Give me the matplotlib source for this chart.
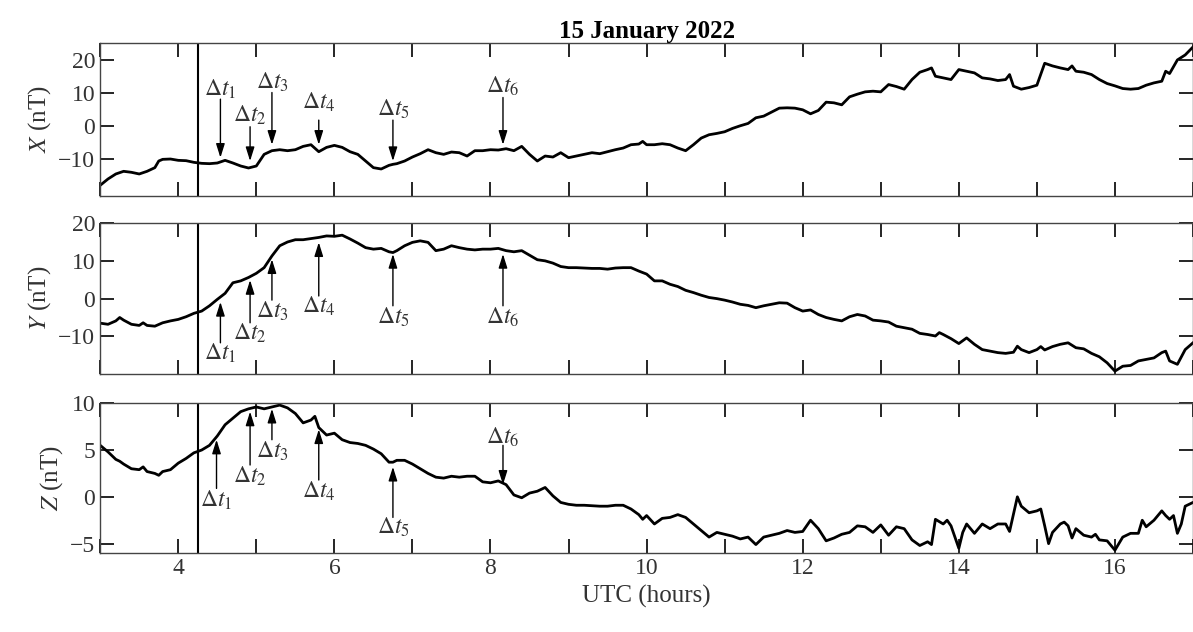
import numpy as np
import matplotlib
matplotlib.use("Agg")
import matplotlib.pyplot as plt
from matplotlib.ticker import MultipleLocator

plt.rcParams['font.family'] = ['Liberation Serif', 'DejaVu Serif']
plt.rcParams['mathtext.fontset'] = 'stix'

# X component (nT)
hx = [3.0, 3.1, 3.2, 3.3, 3.4, 3.5, 3.6, 3.7, 3.75, 3.8, 3.9, 4.0, 4.1, 4.2, 4.3, 4.4, 4.5, 4.6, 4.7,
      4.8, 4.9, 5.0, 5.1, 5.2, 5.3, 5.4, 5.5, 5.6, 5.7, 5.8, 5.9, 6.0, 6.1, 6.2, 6.3, 6.4, 6.5, 6.6,
      6.7, 6.75, 6.8, 6.9, 7.0, 7.1, 7.2, 7.3, 7.4, 7.5, 7.6, 7.7, 7.8, 7.9, 8.0, 8.1, 8.2, 8.3, 8.4,
      8.5, 8.6, 8.7, 8.8, 8.9, 9.0, 9.1, 9.2, 9.3, 9.4, 9.5, 9.6, 9.7, 9.8, 9.9, 9.95, 10.0, 10.1,
      10.2, 10.3, 10.4, 10.5, 10.6, 10.7, 10.8, 10.9, 11.0, 11.1, 11.2, 11.3, 11.4, 11.5, 11.6, 11.7,
      11.8, 11.9, 12.0, 12.1, 12.2, 12.3, 12.4, 12.5, 12.6, 12.7, 12.8, 12.9, 13.0, 13.1, 13.2, 13.3,
      13.4, 13.5, 13.6, 13.65, 13.7, 13.8, 13.9, 14.0, 14.1, 14.2, 14.3, 14.4, 14.5, 14.6, 14.65, 14.7,
      14.8, 14.9, 15.0, 15.1, 15.2, 15.3, 15.4, 15.45, 15.5, 15.6, 15.7, 15.8, 15.9, 16.0, 16.1, 16.2,
      16.3, 16.4, 16.5, 16.6, 16.65, 16.7, 16.8, 16.9, 17.0]
bx = [-17.8, -15.9, -14.4, -13.6, -13.9, -14.4, -13.6, -12.5, -10.5, -10.0, -9.9, -10.3, -10.4, -10.9,
      -11.2, -11.3, -11.1, -10.3, -11.1, -12.0, -12.6, -12.0, -8.5, -7.4, -7.1, -7.4, -7.1, -6.1, -5.6,
      -7.7, -6.4, -5.8, -6.4, -7.7, -8.5, -10.5, -12.5, -12.9, -11.8, -11.5, -11.3, -10.5, -9.3, -8.3,
      -7.1, -8.0, -8.5, -7.8, -8.0, -9.0, -7.4, -7.4, -7.1, -7.2, -6.8, -7.4, -6.1, -8.5, -10.5, -9.0,
      -9.3, -8.0, -9.5, -9.0, -8.5, -8.0, -8.3, -7.7, -7.1, -6.6, -5.6, -5.4, -4.6, -5.6, -5.6, -5.3,
      -5.6, -6.6, -7.4, -5.6, -3.6, -2.6, -2.2, -1.7, -0.7, 0.1, 0.8, 2.5, 3.0, 4.2, 5.4, 5.5, 5.4, 4.9,
      3.7, 4.7, 7.2, 7.0, 6.4, 8.8, 9.6, 10.3, 10.5, 10.3, 12.5, 11.9, 11.1, 14.0, 16.2, 17.0, 17.5,
      15.0, 14.5, 14.0, 17.0, 16.5, 16.0, 14.5, 14.2, 13.7, 14.0, 15.5, 12.0, 11.1, 11.6, 12.3, 18.9,
      18.1, 17.5, 17.0, 18.1, 16.5, 16.2, 15.5, 14.0, 12.8, 12.1, 11.3, 11.1, 11.3, 12.3, 13.0, 13.5,
      16.5, 15.8, 19.9, 21.4, 23.8]

# Y component (nT)
hy = [3.0, 3.1, 3.2, 3.25, 3.3, 3.4, 3.5, 3.55, 3.6, 3.7, 3.8, 3.9, 4.0, 4.1, 4.2, 4.3, 4.4, 4.5, 4.6,
      4.7, 4.8, 4.9, 5.0, 5.1, 5.2, 5.3, 5.4, 5.5, 5.6, 5.7, 5.8, 5.9, 6.0, 6.1, 6.2, 6.3, 6.4, 6.5, 6.6,
      6.7, 6.75, 6.8, 6.9, 7.0, 7.1, 7.2, 7.3, 7.4, 7.5, 7.6, 7.7, 7.8, 7.9, 8.0, 8.1, 8.2, 8.3, 8.4,
      8.5, 8.6, 8.7, 8.8, 8.9, 9.0, 9.1, 9.2, 9.3, 9.4, 9.5, 9.6, 9.7, 9.8, 9.9, 10.0, 10.1, 10.2, 10.3,
      10.4, 10.5, 10.6, 10.7, 10.8, 10.9, 11.0, 11.1, 11.2, 11.3, 11.4, 11.5, 11.6, 11.7, 11.8, 11.9,
      12.0, 12.1, 12.2, 12.3, 12.4, 12.5, 12.6, 12.7, 12.8, 12.9, 13.0, 13.1, 13.2, 13.3, 13.4, 13.5,
      13.6, 13.7, 13.75, 13.8, 13.9, 14.0, 14.1, 14.2, 14.3, 14.4, 14.5, 14.6, 14.7, 14.75, 14.8, 14.9,
      15.0, 15.05, 15.1, 15.2, 15.3, 15.4, 15.5, 15.6, 15.7, 15.8, 15.9, 16.0, 16.1, 16.2, 16.3, 16.4,
      16.5, 16.6, 16.65, 16.7, 16.8, 16.9, 17.0]
by = [-6.5, -6.8, -5.9, -5.0, -5.7, -6.8, -7.1, -6.4, -7.1, -7.3, -6.4, -5.9, -5.5, -4.8, -3.9, -3.3,
      -1.9, -0.2, 1.4, 4.2, 4.7, 5.6, 6.7, 8.2, 11.3, 14.0, 15.0, 15.6, 15.6, 15.9, 16.2, 16.6, 16.5,
      16.8, 15.8, 14.7, 13.5, 13.1, 13.3, 12.4, 12.2, 12.7, 14.0, 14.9, 15.3, 14.9, 12.7, 13.1, 14.0,
      13.5, 13.1, 12.9, 13.1, 13.1, 13.3, 12.7, 12.4, 12.7, 11.5, 10.3, 10.0, 9.4, 8.5, 8.2, 8.2, 8.1,
      8.0, 8.0, 7.8, 8.1, 8.2, 8.2, 7.3, 6.5, 4.7, 4.7, 3.8, 3.2, 2.2, 1.6, 0.9, 0.3, 0.0, -0.4, -0.9,
      -1.5, -1.8, -2.4, -1.9, -1.5, -1.1, -1.2, -2.4, -3.3, -3.0, -4.2, -5.0, -5.5, -5.9, -4.8, -4.2,
      -4.6, -5.7, -5.9, -6.2, -7.3, -7.7, -8.1, -9.2, -9.5, -9.9, -9.0, -9.5, -10.6, -11.9, -10.4, -12.1,
      -13.5, -13.9, -14.3, -14.5, -14.2, -12.6, -13.5, -14.3, -13.5, -12.7, -13.6, -12.7, -12.1, -11.7,
      -13.0, -13.3, -14.5, -15.4, -17.0, -19.2, -17.9, -17.7, -16.5, -16.1, -15.7, -14.3, -13.9, -16.5,
      -17.4, -13.5, -11.7]

# Z component (nT)
hz = [3.0, 3.1, 3.2, 3.25, 3.3, 3.4, 3.5, 3.55, 3.6, 3.7, 3.75, 3.8, 3.9, 4.0, 4.1, 4.2, 4.3, 4.4, 4.5,
      4.6, 4.7, 4.8, 4.9, 5.0, 5.1, 5.2, 5.3, 5.4, 5.5, 5.6, 5.7, 5.75, 5.8, 5.9, 6.0, 6.1, 6.2, 6.3,
      6.4, 6.5, 6.6, 6.7, 6.75, 6.8, 6.9, 7.0, 7.1, 7.2, 7.3, 7.4, 7.5, 7.6, 7.7, 7.8, 7.9, 8.0, 8.1,
      8.2, 8.3, 8.4, 8.5, 8.6, 8.7, 8.8, 8.9, 9.0, 9.1, 9.2, 9.4, 9.5, 9.6, 9.7, 9.8, 9.9, 9.95, 10.0,
      10.1, 10.2, 10.3, 10.4, 10.5, 10.6, 10.7, 10.8, 10.9, 11.0, 11.1, 11.2, 11.3, 11.4, 11.5, 11.6,
      11.7, 11.8, 11.9, 12.0, 12.1, 12.2, 12.3, 12.4, 12.5, 12.6, 12.7, 12.8, 12.9, 13.0, 13.1, 13.2,
      13.3, 13.4, 13.5, 13.6, 13.65, 13.7, 13.8, 13.85, 13.9, 14.0, 14.05, 14.1, 14.2, 14.3, 14.4, 14.5,
      14.6, 14.65, 14.75, 14.8, 14.9, 15.0, 15.05, 15.1, 15.15, 15.2, 15.3, 15.35, 15.4, 15.45, 15.5,
      15.6, 15.7, 15.75, 15.8, 15.9, 16.0, 16.1, 16.2, 16.3, 16.35, 16.4, 16.5, 16.6, 16.65, 16.7,
      16.75, 16.8, 16.85, 16.9, 17.0]
bz = [5.5, 4.8, 4.0, 3.8, 3.5, 3.0, 2.9, 3.2, 2.7, 2.5, 2.3, 2.7, 2.9, 3.6, 4.1, 4.7, 5.0, 5.5, 6.5,
      7.7, 8.4, 9.1, 9.4, 9.6, 9.4, 9.6, 9.8, 9.5, 8.9, 7.9, 8.2, 8.6, 7.4, 6.6, 6.8, 6.1, 5.8, 5.7,
      5.5, 5.1, 4.6, 3.7, 3.7, 3.9, 3.9, 3.5, 3.0, 2.5, 2.1, 2.0, 2.2, 2.1, 2.2, 2.2, 1.6, 1.5, 1.7,
      1.3, 0.2, -0.1, 0.4, 0.6, 1.0, 0.1, -0.6, -0.8, -0.9, -0.9, -1.0, -1.0, -0.9, -0.9, -1.3, -1.9,
      -2.4, -2.0, -2.9, -2.3, -2.2, -1.9, -2.2, -2.9, -3.6, -4.3, -3.8, -4.0, -4.2, -4.5, -4.3, -5.1,
      -4.3, -4.1, -3.9, -3.6, -3.8, -3.7, -2.5, -3.4, -4.7, -4.4, -4.0, -3.8, -3.1, -3.2, -3.8, -3.0,
      -4.1, -3.2, -3.4, -4.6, -5.2, -4.8, -5.1, -2.4, -2.9, -2.5, -3.1, -5.5, -3.8, -2.9, -3.9, -2.9,
      -3.4, -2.9, -2.9, -3.7, 0.0, -1.0, -1.7, -1.5, -1.3, -3.1, -5.0, -3.8, -2.9, -2.7, -3.1, -4.4,
      -3.4, -4.1, -4.3, -4.0, -4.6, -4.7, -5.7, -4.3, -3.9, -3.9, -2.5, -3.2, -2.5, -1.5, -2.0, -2.4,
      -2.0, -3.9, -2.9, -1.0, -0.6]

onset = 4.25
labels = [r'$\Delta t_1$', r'$\Delta t_2$', r'$\Delta t_3$', r'$\Delta t_4$', r'$\Delta t_5$', r'$\Delta t_6$']
arrow_x = [4.54, 4.92, 5.2, 5.8, 6.75, 8.16]

# (tail, tip, text centre) for each panel
x_arrows = [(8.1, -9.5, 11.0), (-0.2, -10.5, 3.3), (10.1, -5.6, 13.2),
            (1.8, -5.6, 7.2), (1.8, -10.5, 5.0), (8.6, -5.6, 11.9)]
y_arrows = [(-11.7, -0.9, -14.6), (-6.4, 4.9, -9.3), (-0.4, 10.4, -3.3),
            (0.7, 14.9, -2.1), (-1.9, 11.8, -5.0), (-1.9, 11.8, -5.0)]
z_arrows = [(0.9, 6.1, -0.4), (3.4, 9.1, 2.2), (6.1, 9.4, 4.9),
            (1.8, 7.2, 0.6), (-2.2, 3.2, -3.3), (5.5, 1.3, 6.4)]
z_arrow_x = [4.49, 4.92, 5.2, 5.8, 6.75, 8.16]

fig = plt.figure(figsize=(11.93, 6.32), dpi=100)
left, width = 0.084, 0.916
ax1 = fig.add_axes([left, 0.690, width, 0.242])
ax2 = fig.add_axes([left, 0.408, width, 0.239])
ax3 = fig.add_axes([left, 0.125, width, 0.237])

panels = [
    (ax1, hx, bx, (-21, 25), [-10, 0, 10, 20], r'$X$ (nT)', x_arrows, arrow_x),
    (ax2, hy, by, (-20, 20), [-10, 0, 10, 20], r'$Y$ (nT)', y_arrows, arrow_x),
    (ax3, hz, bz, (-6, 10), [-5, 0, 5, 10], r'$Z$ (nT)', z_arrows, z_arrow_x),
]

for ax, h, b, ylim, yt, ylab, arrows, ax_x in panels:
    ax.plot(h, b, color='black', lw=2.0)
    ax.axvline(onset, color='black', lw=1.5)
    ax.set_xlim(3, 17)
    ax.set_ylim(*ylim)
    ax.set_yticks(yt)
    ax.xaxis.set_major_locator(MultipleLocator(2))
    ax.xaxis.set_minor_locator(MultipleLocator(1))
    ax.tick_params(which='both', direction='in', top=True, right=True, length=10, width=1.2,
                   labelsize=17, colors='black', labelcolor='#333333')
    ax.set_ylabel(ylab, fontsize=18, color='#333333', labelpad=4)
    for sp in ax.spines.values():
        sp.set_linewidth(1.0)
        sp.set_color('#444444')
    for lab, xa, (tail, tip, ty) in zip(labels, ax_x, arrows):
        ax.annotate('', xy=(xa, tip), xytext=(xa, tail),
                    arrowprops=dict(arrowstyle='-|>,head_width=0.22,head_length=0.7',
                                    color='black', lw=1.0,
                                    mutation_scale=12, shrinkA=0, shrinkB=0))
        ax.text(xa, ty, lab, ha='center', va='center', fontsize=17, color='#333333')

ax1.tick_params(labelbottom=False)
ax2.tick_params(labelbottom=False)
ax3.set_xlabel('UTC (hours)', fontsize=18, color='#333333')
ax1.set_title('15 January 2022', fontsize=18, fontweight='bold', pad=2)

fig.savefig('out.png', dpi=100)
